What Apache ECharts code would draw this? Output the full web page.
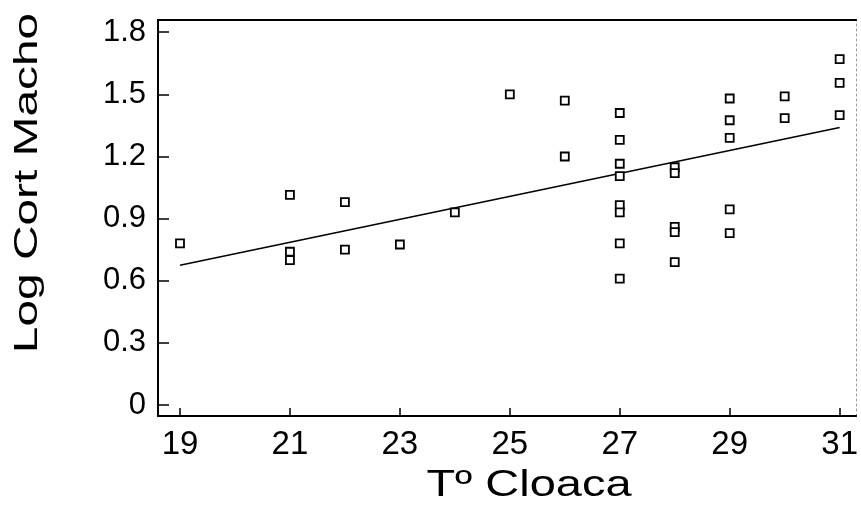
<!DOCTYPE html>
<html>
<head>
<meta charset="utf-8">
<script src="https://cdn.jsdelivr.net/npm/echarts@6/dist/echarts.min.js"></script>
<style>
  html, body { margin: 0; padding: 0; background: #fff; }
  #chart { width: 861px; height: 516px; }
</style>
</head>
<body>
<div id="chart"></div>
<script>
// Cloacal temperature (°C) for each male, and log corticosterone
const tempC = [
  19,
  21, 21, 21,
  22, 22,
  23,
  24,
  25,
  26, 26,
  27, 27, 27, 27, 27, 27, 27, 27,
  28, 28, 28, 28, 28,
  29, 29, 29, 29, 29,
  30, 30,
  31, 31, 31
];
const logCort = [
  0.78,
  1.015, 0.74, 0.70,
  0.98, 0.75,
  0.775,
  0.93,
  1.50,
  1.47, 1.20,
  1.41, 1.28, 1.165, 1.105, 0.965, 0.93, 0.78, 0.61,
  1.148, 1.12, 0.86, 0.835, 0.69,
  1.48, 1.375, 1.29, 0.945, 0.83,
  1.49, 1.385,
  1.67, 1.555, 1.40
];

// Fitted regression line endpoints
const fitX = [19, 31];
const fitY = [0.675, 1.34];

// Axis ticks and labels
const xTickValues = [19, 21, 23, 25, 27, 29, 31];
const xTickLabels = ['19', '21', '23', '25', '27', '29', '31'];
const yTickValues = [0, 0.3, 0.6, 0.9, 1.2, 1.5, 1.8];
const yTickLabels = ['0', '0.3', '0.6', '0.9', '1.2', '1.5', '1.8'];

const xTitle = 'T\u00BA Cloaca';
const yTitle = 'Log Cort Macho';

const points = tempC.map((t, i) => [t, logCort[i]]);
const fitLine = fitX.map((t, i) => [t, fitY[i]]);

const FONT = '"Liberation Sans", Arial, Helvetica, sans-serif';

const chart = echarts.init(document.getElementById('chart'), null, { renderer: 'canvas' });

function labelFor(values, labels) {
  return function (v) {
    for (let i = 0; i < values.length; i++) {
      if (Math.abs(values[i] - v) < 1e-6) return labels[i];
    }
    return '';
  };
}

chart.setOption({
  animation: false,
  backgroundColor: '#ffffff',
  grid: { left: 158, right: 1, top: 20, bottom: 100, containLabel: false },
  xAxis: [
    {
      type: 'value',
      position: 'bottom',
      min: 18.6,
      max: 31.3,
      axisLine: { onZero: false, lineStyle: { color: '#000', width: 2 } },
      axisTick: { inside: true, length: 8, customValues: xTickValues, lineStyle: { color: '#000', width: 1.5 } },
      axisLabel: {
        customValues: xTickValues,
        formatter: labelFor(xTickValues, xTickLabels),
        color: '#000', fontFamily: FONT, fontSize: 33, margin: 12
      },
      splitLine: { show: false }
    },
    {
      type: 'value',
      position: 'top',
      min: 18.6,
      max: 31.3,
      axisLine: { onZero: false, lineStyle: { color: '#000', width: 2 } },
      axisTick: { show: false },
      axisLabel: { show: false },
      splitLine: { show: false }
    }
  ],
  yAxis: [
    {
      type: 'value',
      position: 'left',
      min: -0.053,
      max: 1.859,
      axisLine: { onZero: false, lineStyle: { color: '#000', width: 2 } },
      axisTick: { inside: true, length: 11, customValues: yTickValues, lineStyle: { color: '#000', width: 1.5 } },
      axisLabel: {
        customValues: yTickValues,
        formatter: labelFor(yTickValues, yTickLabels),
        color: '#000', fontFamily: FONT, fontSize: 31, margin: 12
      },
      splitLine: { show: false }
    },
    {
      type: 'value',
      position: 'right',
      min: -0.053,
      max: 1.859,
      axisLine: { onZero: false, lineStyle: { color: '#999', width: 1, type: [2, 3] } },
      axisTick: { show: false },
      axisLabel: { show: false },
      splitLine: { show: false }
    }
  ],
  series: [
    {
      type: 'line',
      data: fitLine,
      xAxisIndex: 0,
      yAxisIndex: 0,
      showSymbol: false,
      symbol: 'none',
      lineStyle: { color: '#000', width: 1.6 },
      z: 2
    },
    {
      type: 'scatter',
      data: points,
      xAxisIndex: 0,
      yAxisIndex: 0,
      symbol: 'rect',
      symbolSize: 8,
      itemStyle: { color: '#fff', borderColor: '#000', borderWidth: 1.8, opacity: 1 },
      z: 3
    }
  ],
  graphic: [
    {
      type: 'text',
      x: 529,
      y: 486,
      scaleX: 1.27,
      style: {
        text: xTitle,
        font: '37px ' + FONT,
        fill: '#000',
        textAlign: 'center',
        textVerticalAlign: 'middle'
      }
    },
    {
      type: 'text',
      x: 28,
      y: 183,
      rotation: Math.PI / 2,
      scaleX: 1.45,
      style: {
        text: yTitle,
        font: '33px ' + FONT,
        fill: '#000',
        textAlign: 'center',
        textVerticalAlign: 'middle'
      }
    }
  ]
});
</script>
</body>
</html>
